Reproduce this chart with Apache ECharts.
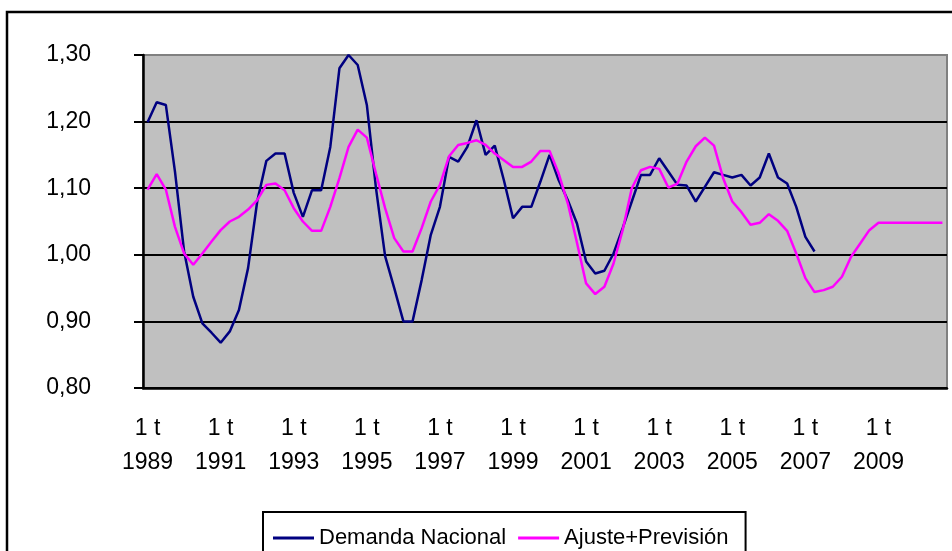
<!DOCTYPE html>
<html>
<head>
<meta charset="utf-8">
<script src="https://cdn.jsdelivr.net/npm/echarts@6/dist/echarts.min.js"></script>
<style>
  html, body { margin: 0; padding: 0; background: #fff; }
  #chart { width: 952px; height: 551px; }
</style>
</head>
<body>
<div id="chart"></div>
<script>
// años del eje (trimestres 1 t .. 4 t)
const years = [1989, 1990, 1991, 1992, 1993, 1994, 1995, 1996, 1997, 1998, 1999,
               2000, 2001, 2002, 2003, 2004, 2005, 2006, 2007, 2008, 2009, 2010];
const quarterNames = ['1 t', '2 t', '3 t', '4 t'];

// Demanda Nacional (1989 1t .. 2007 2t)
const demandaNacional = [
  1.199, 1.229, 1.225, 1.125, 1.005, 0.937, 0.897, 0.883,
  0.868, 0.885, 0.917, 0.980, 1.080, 1.141, 1.152, 1.152,
  1.093, 1.057, 1.097, 1.097, 1.162, 1.280, 1.300, 1.285,
  1.225, 1.100, 0.998, 0.950, 0.900, 0.900, 0.962, 1.030,
  1.072, 1.147, 1.140, 1.162, 1.202, 1.150, 1.164, 1.112,
  1.055, 1.072, 1.072, 1.110, 1.150, 1.112, 1.082, 1.047,
  0.990, 0.972, 0.976, 1.002, 1.040, 1.080, 1.120, 1.120,
  1.145, 1.125, 1.105, 1.104, 1.080, 1.102, 1.124, 1.120,
  1.116, 1.120, 1.104, 1.116, 1.152, 1.116, 1.107, 1.072,
  1.027, 1.005
];

// Ajuste+Previsión (1989 1t .. 2010 4t)
const ajustePrevision = [
  1.098, 1.121, 1.098, 1.042, 1.002, 0.985, 1.002, 1.020,
  1.037, 1.050, 1.057, 1.068, 1.082, 1.105, 1.107, 1.097,
  1.070, 1.050, 1.036, 1.036, 1.072, 1.115, 1.162, 1.188,
  1.176, 1.122, 1.070, 1.025, 1.005, 1.005, 1.040, 1.080,
  1.105, 1.148, 1.165, 1.168, 1.172, 1.165, 1.152, 1.142,
  1.132, 1.132, 1.140, 1.156, 1.156, 1.122, 1.077, 1.018,
  0.957, 0.941, 0.952, 0.987, 1.037, 1.100, 1.127, 1.132,
  1.129, 1.101, 1.107, 1.140, 1.163, 1.176, 1.164, 1.115,
  1.080, 1.064, 1.045, 1.048, 1.061, 1.051, 1.036, 1.002,
  0.965, 0.944, 0.947, 0.952, 0.967, 0.997, 1.017, 1.037,
  1.048, 1.048, 1.048, 1.048, 1.048, 1.048, 1.048, 1.048
];

const categories = [];
years.forEach(y => quarterNames.forEach(q => categories.push(q + '\n' + y)));

const font = "'Liberation Sans', Arial, sans-serif";

const chart = echarts.init(document.getElementById('chart'), null, { renderer: 'canvas' });

const option = {
  backgroundColor: '#fff',
  animation: false,
  textStyle: { fontFamily: font, color: '#000' },
  grid: {
    left: 143, top: 55, right: 5, bottom: 163,
    show: true,
    backgroundColor: '#C0C0C0',
    borderColor: '#808080',
    borderWidth: 2
  },
  legend: {
    left: 263,
    top: 512,
    padding: [15, 17, 22, 10],
    borderColor: '#000',
    borderWidth: 2,
    itemWidth: 41,
    itemHeight: 3,
    itemGap: 12,
    icon: 'rect',
    textStyle: { fontSize: 22, fontFamily: font, color: '#000' },
    data: ['Demanda Nacional', 'Ajuste+Previsión']
  },
  xAxis: {
    type: 'category',
    data: categories,
    boundaryGap: true,
    axisLine: { lineStyle: { color: '#000', width: 2.5 } },
    axisTick: { interval: 7, length: 7, lineStyle: { color: '#000', width: 2 } },
    axisLabel: {
      interval: 7,
      margin: 24,
      fontSize: 23,
      lineHeight: 34,
      color: '#000',
      fontFamily: font
    },
    splitLine: { show: false }
  },
  yAxis: {
    type: 'value',
    min: 0.8,
    max: 1.3,
    interval: 0.1,
    axisLine: { show: true, lineStyle: { color: '#000', width: 2.5 } },
    axisTick: { show: true, length: 9, lineStyle: { color: '#000', width: 2 } },
    axisLabel: {
      margin: 52,
      fontSize: 23,
      color: '#000',
      fontFamily: font,
      formatter: v => v.toFixed(2).replace('.', ',')
    },
    splitLine: {
      show: true,
      lineStyle: { color: ['#000', '#000', '#000', '#000', '#000', '#808080'], width: 2 }
    }
  },
  series: [
    {
      name: 'Demanda Nacional',
      type: 'line',
      data: demandaNacional,
      showSymbol: false,
      symbol: 'none',
      color: '#000080',
      lineStyle: { color: '#000080', width: 2.5 }
    },
    {
      name: 'Ajuste+Previsión',
      type: 'line',
      data: ajustePrevision,
      showSymbol: false,
      symbol: 'none',
      color: '#FF00FF',
      lineStyle: { color: '#FF00FF', width: 2.5 }
    }
  ],
  graphic: [
    {
      type: 'rect',
      z: 100,
      silent: true,
      shape: { x: 7, y: 12, width: 1000, height: 1000 },
      style: { fill: 'none', stroke: '#000', lineWidth: 2.5 }
    }
  ]
};

chart.setOption(option);
</script>
</body>
</html>
